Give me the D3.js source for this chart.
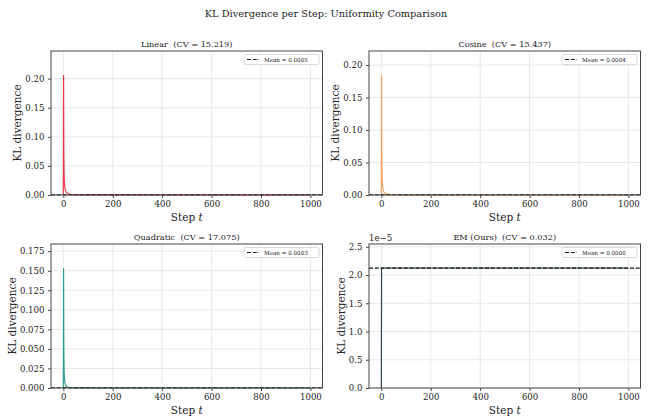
<!DOCTYPE html>
<html>
<head>
<meta charset="utf-8">
<script src="https://cdn.jsdelivr.net/npm/d3@7"></script>
<style>
  body { margin: 0; background: #fff; }
  svg { font-family: "DejaVu Serif", serif; }
  text { white-space: pre; }
</style>
</head>
<body>
<svg id="chart" width="652" height="419"></svg>
<script>
// sampled steps (dense near the spike, sparse on the flat tail)
const steps = [0, 1, 2, 3, 4, 5, 6, 8, 10, 15, 20, 30, 50, 100, 200, 400, 700, 999];
const linearKL = [0, 0.2063, 0.072, 0.038, 0.025, 0.018, 0.0135, 0.0085, 0.006, 0.0032, 0.002, 0.001, 0.00045, 0.00015, 0.00005, 0.00002, 0.00001, 0.000005];
const cosineKL = [0, 0.1847, 0.062, 0.032, 0.021, 0.015, 0.011, 0.007, 0.0048, 0.0026, 0.0016, 0.0008, 0.00035, 0.00012, 0.00004, 0.000015, 0.000008, 0.000004];
const quadraticKL = [0, 0.1535, 0.048, 0.024, 0.015, 0.0105, 0.0078, 0.0048, 0.0033, 0.0017, 0.001, 0.0005, 0.0002, 0.00007, 0.00002, 0.00001, 0.000005, 0.000003];
const emSteps = [0, 1, 999];
const emKL = [0, 2.125e-5, 2.125e-5];

const schedules = ["Linear", "Cosine", "Quadratic", "EM (Ours)"];
const cvValues = [15.219, 15.437, 17.075, 0.032];
const meanValues = [0.0005, 0.0004, 0.0003, 2.123e-5];
const colors = ["#e63946", "#f4a261", "#2a9d8f", "#264653"];
const xTicks = [0, 200, 400, 600, 800, 1000];
const yTicks = [
  [0, 0.05, 0.10, 0.15, 0.20],
  [0, 0.05, 0.10, 0.15, 0.20],
  [0, 0.025, 0.05, 0.075, 0.10, 0.125, 0.15, 0.175],
  [0, 0.5e-5, 1.0e-5, 1.5e-5, 2.0e-5, 2.5e-5]
];
const yFormats = [d3.format(".2f"), d3.format(".2f"), d3.format(".3f"), d => d3.format(".1f")(d * 1e5)];

const series = [
  { x: steps, y: linearKL },
  { x: steps, y: cosineKL },
  { x: steps, y: quadraticKL },
  { x: emSteps, y: emKL }
];

const svg = d3.select("#chart");
const W = 271.5, H = 144;
const origins = [[51, 51], [369, 51], [51, 244], [369, 244]];

svg.append("text").attr("x", 326).attr("y", 17).attr("text-anchor", "middle")
  .attr("font-size", 9.8).attr("fill", "#222")
  .text("KL Divergence per Step: Uniformity Comparison");

series.forEach((s, i) => {
  const [ox, oy] = origins[i];
  const g = svg.append("g").attr("transform", `translate(${ox},${oy})`);
  const x = d3.scaleLinear().domain([-49.95, 1048.95]).range([0, W]);
  const y = d3.scaleLinear().domain([0, d3.max(s.y) * 1.2]).range([H, 0]);

  // grid
  g.append("g").selectAll("line").data(xTicks).join("line")
    .attr("x1", d => x(d)).attr("x2", d => x(d)).attr("y1", 0).attr("y2", H)
    .attr("stroke", "#e2e2e2").attr("stroke-width", 0.8);
  g.append("g").selectAll("line").data(yTicks[i]).join("line")
    .attr("x1", 0).attr("x2", W).attr("y1", d => y(d)).attr("y2", d => y(d))
    .attr("stroke", "#e2e2e2").attr("stroke-width", 0.8);

  // data line
  const line = d3.line().x((d, k) => x(s.x[k])).y(d => y(d));
  g.append("path").datum(s.y).attr("d", line)
    .attr("fill", "none").attr("stroke", colors[i]).attr("stroke-width", 1.2);

  // mean line
  g.append("line").attr("x1", 0).attr("x2", W)
    .attr("y1", y(meanValues[i])).attr("y2", y(meanValues[i]))
    .attr("stroke", "#111").attr("stroke-width", 1.1).attr("stroke-dasharray", "4,1.8");

  // spines
  g.append("rect").attr("width", W).attr("height", H)
    .attr("fill", "none").attr("stroke", "#444").attr("stroke-width", 1);

  // axes
  const xAxis = g.append("g").attr("transform", `translate(0,${H})`)
    .call(d3.axisBottom(x).tickValues(xTicks).tickSize(3).tickPadding(3).tickFormat(d3.format("d")));
  const yAxis = g.append("g")
    .call(d3.axisLeft(y).tickValues(yTicks[i]).tickSize(3).tickPadding(3.5).tickFormat(yFormats[i]));
  [xAxis, yAxis].forEach(a => {
    a.select(".domain").remove();
    a.selectAll("line").attr("stroke", "#444");
    a.selectAll("text").attr("font-family", "DejaVu Serif").attr("font-size", 8.6).attr("fill", "#222");
  });

  // titles and labels
  g.append("text").attr("x", W / 2).attr("y", -4).attr("text-anchor", "middle")
    .attr("font-size", 8.2).attr("fill", "#222")
    .text(`${schedules[i]}  (CV = ${cvValues[i].toFixed(3)})`);

  const xl = g.append("text").attr("x", W / 2).attr("y", H + 26).attr("text-anchor", "middle")
    .attr("font-size", 10.5).attr("fill", "#222");
  xl.append("tspan").text("Step ");
  xl.append("tspan").attr("font-style", "italic").text("t");

  const minX = d3.min(yAxis.selectAll("text").nodes(), n => n.getBBox().x);
  g.append("text").attr("transform", `translate(${minX - 4},${H / 2}) rotate(-90)`)
    .attr("text-anchor", "middle").attr("font-size", 10.5).attr("fill", "#222")
    .text("KL divergence");

  if (i === 3) {
    g.append("text").attr("x", 0).attr("y", -3).attr("font-size", 8.6).attr("fill", "#222").text("1e\u22125");
  }

  // legend
  const lw = 75, lh = 10;
  const lg = g.append("g").attr("transform", `translate(${W - lw - 3.5},${3.5})`);
  lg.append("rect").attr("width", lw).attr("height", lh).attr("rx", 1.5)
    .attr("fill", "#fff").attr("fill-opacity", 0.85).attr("stroke", "#d0d0d0").attr("stroke-width", 0.8);
  lg.append("line").attr("x1", 3).attr("x2", 15).attr("y1", lh / 2).attr("y2", lh / 2)
    .attr("stroke", "#111").attr("stroke-width", 1.1).attr("stroke-dasharray", "4,1.8");
  lg.append("text").attr("x", 20).attr("y", lh / 2 + 2).attr("font-size", 5.6).attr("fill", "#222")
    .text(`Mean = ${d3.format(".4f")(meanValues[i])}`);
});
</script>
</body>
</html>
